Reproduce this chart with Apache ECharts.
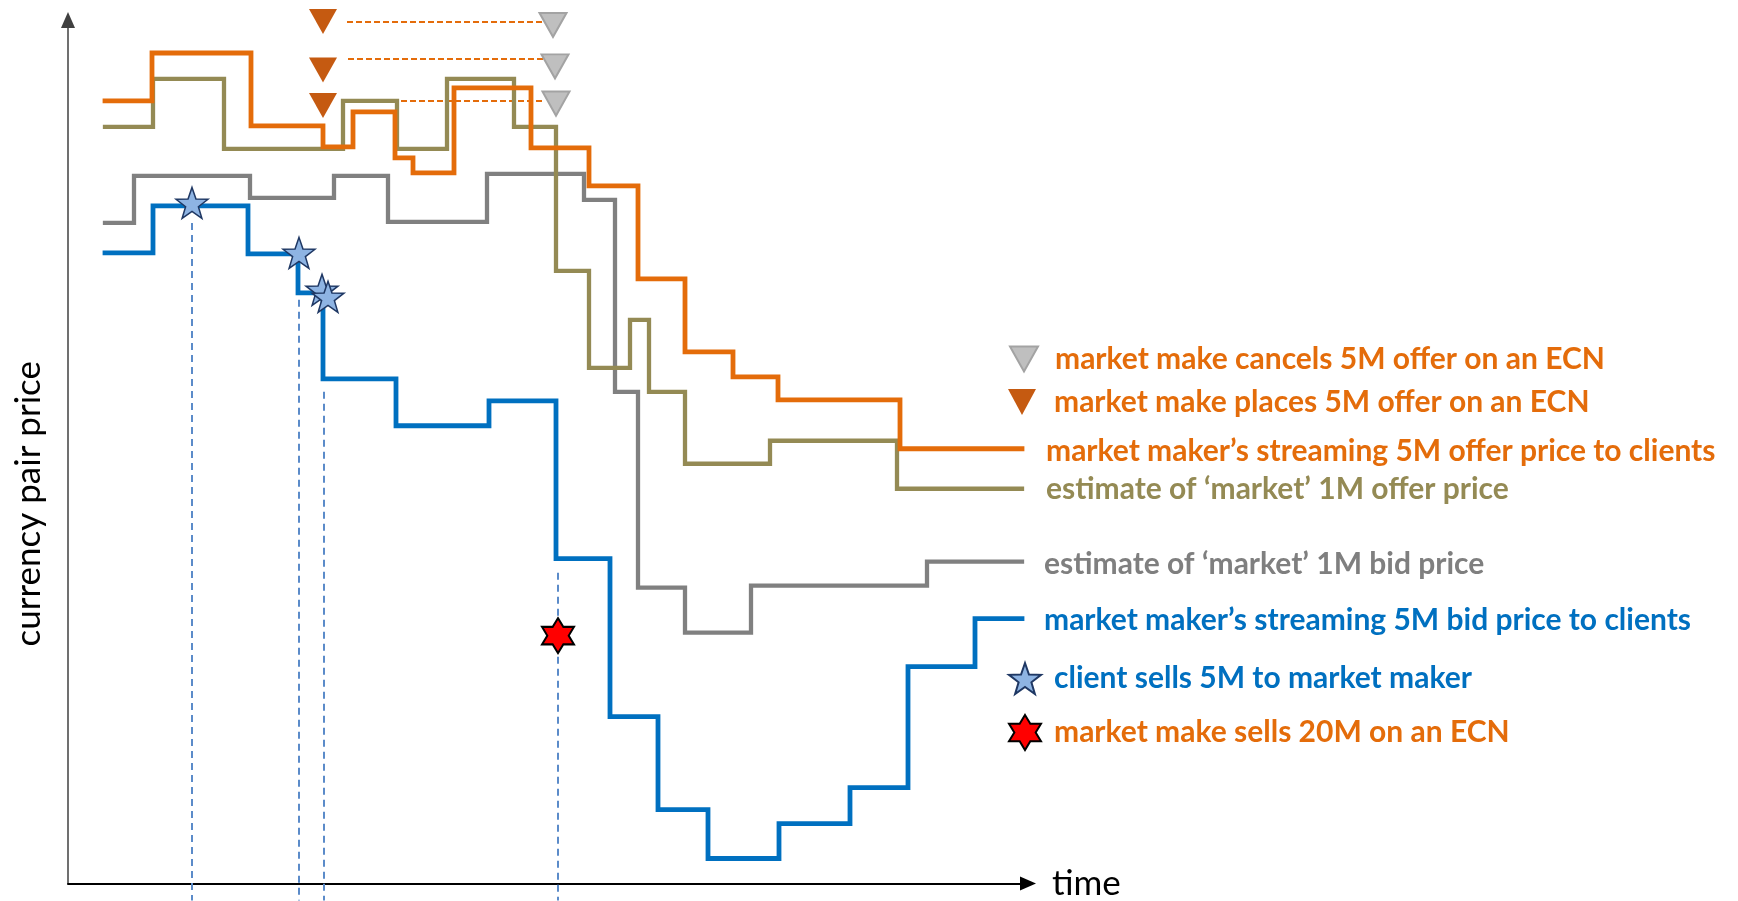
<!DOCTYPE html>
<html>
<head>
<meta charset="utf-8">
<title>Market maker pricing and hedging</title>
<script src="https://cdn.jsdelivr.net/npm/echarts@6/dist/echarts.min.js"></script>
<style>
  html, body { margin: 0; padding: 0; background: #ffffff; }
  #chart { width: 1738px; height: 901px; }
</style>
</head>
<body>
<div id="chart"></div>
<script>
// Step prices: each point is [time, new price level]; the level holds until the next point.
const streamOffer5M = [
  [9.25, 195.75], [21, 207.75], [45.75, 189.5], [63.75, 184.25], [71.25, 193],
  [81.75, 181.5], [86.25, 177.75], [96.5, 199], [115.75, 184], [130.25, 174.5],
  [142.5, 151.25], [154.25, 133], [166.25, 126.75], [177.5, 121], [208, 108.75],
  [238.5, 108.75]
];
const marketOffer1M = [
  [9.25, 189.25], [21.25, 201.25], [39, 183.75], [68.75, 195.75], [82.25, 183.75],
  [94.75, 201.25], [111.5, 189.25], [122, 153.25], [130.25, 129], [140.5, 141],
  [145.25, 123], [154.25, 105], [175.5, 110.75], [207.25, 98.75], [238.5, 98.75]
];
const marketBid1M = [
  [9.25, 165.25], [16.5, 177], [45.5, 171.5], [66.5, 177], [80, 165.5],
  [104.75, 177.5], [129, 171], [136.75, 123], [142.5, 74], [154.25, 62.75],
  [170.75, 74.5], [214.75, 80.5], [238.5, 80.5]
];
const streamBid5M = [
  [9.25, 157.75], [21.25, 169.5], [45, 157.5], [57.5, 147.75], [63.75, 126.25],
  [82, 114.5], [105.25, 120.75], [122, 81.25], [135.5, 41.75], [147.5, 18.5],
  [160, 6.25], [177.75, 15], [195.5, 24], [210, 54.25], [226.75, 66.25],
  [238.5, 66.25]
];

// Events
const offersPlaced = [[63.75, 215.6], [63.75, 203.5], [63.75, 194.6]];
const offersCancelled = [[121.25, 214.75], [121.75, 204.4], [122, 195.1]];
// [time placed, time cancelled, price]
const offerLinks = [[69.75, 119.25, 215.5], [70, 119.25, 206.25], [69.75, 119.25, 195.75]];
const clientSells = [[31, 170.25], [57.75, 157.75], [63.5, 148.5], [65, 146.75]];
const ecnSells = [[122.5, 62]];
// Vertical time markers: [time, upper price]; they run down past the time axis
const dropLines = [[31, 165.25], [57.75, 146], [64, 123], [122.5, 77.75]];
const dropBottom = -4.25;

const names = {
  offer5M: 'market maker\u2019s streaming 5M offer price to clients',
  offer1M: 'estimate of \u2018market\u2019 1M offer price',
  bid1M: 'estimate of \u2018market\u2019 1M bid price',
  bid5M: 'market maker\u2019s streaming 5M bid price to clients',
  cancel: 'market make cancels 5M offer on an ECN',
  place: 'market make places 5M offer on an ECN',
  client: 'client sells 5M to market maker',
  ecn: 'market make sells 20M on an ECN'
};

const colors = {
  orange: '#E46C0A',
  olive: '#948A54',
  gray: '#808080',
  grayText: '#7F7F7F',
  blue: '#0070C0'
};

const FONT = 'Lato, "Open Sans", sans-serif';
const LABEL_SIZE = 30;
const downTriangle = 'path://M0,0L10,0L5,10Z';
const star5 = 'path://M50,0L61.76,33.82L97.55,34.55L69.02,56.18L79.39,90.45L50,70L20.61,90.45L30.98,56.18L2.45,34.55L38.24,33.82Z';
const star6 = 'path://M50,0L64.43,25L93.3,25L78.87,50L93.3,75L64.43,75L50,100L35.57,75L6.7,75L21.13,50L6.7,25L35.57,25Z';

function stepSeries(name, data, color, width, distance, dy) {
  return {
    name: name,
    type: 'line',
    step: 'end',
    data: data,
    symbol: 'none',
    showSymbol: false,
    lineStyle: { color: color, width: width, cap: 'square', join: 'miter' },
    itemStyle: { color: color },
    endLabel: {
      show: true,
      formatter: '{a}',
      color: name === names.bid1M ? colors.grayText : color,
      fontFamily: FONT,
      fontWeight: 'bold',
      fontSize: LABEL_SIZE,
      distance: distance,
      offset: [0, dy]
    },
    emphasis: { disabled: true },
    silent: true,
    z: 2
  };
}

const series = [
  stepSeries(names.bid1M, marketBid1M, colors.gray, 4.3, 22, 3),
  stepSeries(names.offer1M, marketOffer1M, colors.olive, 4.3, 24, 1),
  stepSeries(names.offer5M, streamOffer5M, colors.orange, 4.8, 24, 3),
  stepSeries(names.bid5M, streamBid5M, colors.blue, 4.8, 22, 2)
];

dropLines.forEach(function (d, i) {
  series.push({
    name: 'time marker ' + (i + 1),
    type: 'line',
    data: [[d[0], d[1]], [d[0], dropBottom]],
    symbol: 'none',
    clip: false,
    silent: true,
    lineStyle: { color: '#5B8BC9', width: 2, type: [7, 5] },
    z: 1
  });
});

offerLinks.forEach(function (d, i) {
  series.push({
    name: 'resting offer ' + (i + 1),
    type: 'line',
    data: [[d[0], d[2]], [d[1], d[2]]],
    symbol: 'none',
    silent: true,
    lineStyle: { color: colors.orange, width: 2, type: [6, 3] },
    z: 1
  });
});

series.push(
  {
    name: names.cancel,
    type: 'scatter',
    data: offersCancelled,
    symbol: downTriangle,
    symbolSize: [27, 24],
    itemStyle: { color: '#BFBFBF', borderColor: '#A3A3A3', borderWidth: 2, opacity: 1 },
    silent: true,
    z: 5
  },
  {
    name: names.place,
    type: 'scatter',
    data: offersPlaced,
    symbol: downTriangle,
    symbolSize: [28, 25],
    itemStyle: { color: '#C55A11', opacity: 1 },
    silent: true,
    z: 5
  },
  {
    name: names.client,
    type: 'scatter',
    data: clientSells,
    symbol: star5,
    symbolSize: [32, 31],
    itemStyle: { color: '#8EB4E3', borderColor: '#1F3864', borderWidth: 1.5, opacity: 1 },
    silent: true,
    z: 6
  },
  {
    name: names.ecn,
    type: 'scatter',
    data: ecnSells,
    symbol: star6,
    symbolSize: [32, 35],
    itemStyle: { color: '#FF0000', borderColor: '#000000', borderWidth: 2, opacity: 1 },
    silent: true,
    z: 6
  }
);

function legendEntry(name, left, top, w, h, pad, color) {
  return {
    data: [name],
    left: left,
    top: top,
    padding: 0,
    itemWidth: w,
    itemHeight: h,
    symbolKeepAspect: false,
    selectedMode: false,
    textStyle: {
      color: color,
      fontFamily: FONT,
      fontWeight: 'bold',
      fontSize: LABEL_SIZE,
      lineHeight: 32,
      padding: [0, 0, 0, pad]
    }
  };
}

const option = {
  animation: false,
  backgroundColor: '#ffffff',
  grid: { left: 68, right: 710, top: 20, bottom: 17, containLabel: false },
  xAxis: {
    type: 'value',
    min: 0,
    max: 240,
    name: 'time',
    nameLocation: 'end',
    nameGap: 24,
    nameTextStyle: { color: '#000000', fontFamily: FONT, fontSize: 35, verticalAlign: 'middle' },
    axisLine: {
      show: true,
      onZero: false,
      symbol: ['none', 'triangle'],
      symbolSize: [14, 16],
      lineStyle: { color: '#000000', width: 2 }
    },
    axisTick: { show: false },
    axisLabel: { show: false },
    splitLine: { show: false }
  },
  yAxis: {
    type: 'value',
    min: 0,
    max: 216,
    name: 'currency pair price',
    nameLocation: 'middle',
    nameRotate: 90,
    nameGap: 22,
    nameTextStyle: { color: '#000000', fontFamily: FONT, fontSize: 35, padding: [0, 104, 0, 0] },
    axisLine: {
      show: true,
      onZero: false,
      symbol: ['none', 'triangle'],
      symbolSize: [14, 16],
      lineStyle: { color: '#404040', width: 1.5 }
    },
    axisTick: { show: false },
    axisLabel: { show: false },
    splitLine: { show: false }
  },
  legend: [
    legendEntry(names.cancel, 1009, 343, 28, 25, 12, colors.orange),
    legendEntry(names.place, 1008, 386, 28, 26, 13, colors.orange),
    legendEntry(names.client, 1008, 662, 32, 31, 8, colors.blue),
    legendEntry(names.ecn, 1008, 714, 32, 35, 8, colors.orange)
  ],
  series: series
};

const chart = echarts.init(document.getElementById('chart'), null, { renderer: 'canvas' });
chart.setOption(option);
</script>
</body>
</html>
